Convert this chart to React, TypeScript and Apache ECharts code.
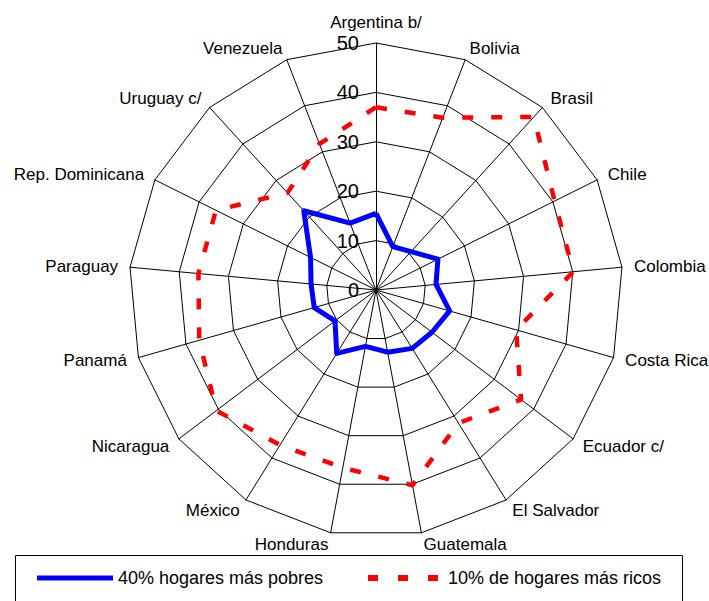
import React, { useEffect, useRef } from "react";
import * as echarts from "echarts";

const categories = [
  "Argentina b/", "Bolivia", "Brasil", "Chile", "Colombia", "Costa Rica",
  "Ecuador c/", "El Salvador", "Guatemala", "Honduras", "México", "Nicaragua",
  "Panamá", "Paraguay", "Rep. Dominicana", "Uruguay c/", "Venezuela",
];
const poorest40 = [15.5, 9.4, 10.5, 14.0, 12.2, 15.5, 14.2, 13.9, 12.8, 11.6, 15.1, 10.4, 13.0, 13.2, 14.8, 21.7, 14.5];
const richest10 = [37.0, 37.4, 47.4, 40.4, 40.1, 29.5, 36.8, 31.7, 40.2, 36.6, 36.9, 40.5, 37.2, 36.1, 36.2, 26.6, 31.7];
const seriesNames = ["40% hogares más pobres", "10% de hogares más ricos"];
const axisMax = 50;
const splitCount = 5;

const FONT = 'Arial, "Liberation Sans", sans-serif';

export default function App() {
  const ref = useRef<HTMLDivElement>(null);
  useEffect(() => {
    if (!ref.current) return;
    const chart = echarts.init(ref.current, undefined, { renderer: "svg" });
    // ECharts radar runs counter-clockwise; the reference runs clockwise.
    const order = [0, ...categories.map((_, i) => i).slice(1).reverse()];
    const indicator = order.map((i) => ({
      name: categories[i],
      min: 0,
      max: axisMax,
      axisLabel: i === 0
        ? { show: true, fontSize: 20, color: "#000", fontFamily: FONT, margin: 17 }
        : { show: false },
    }));
    const pick = (arr: number[]) => order.map((i) => arr[i]);
    chart.setOption({
      animation: false,
      backgroundColor: "#ffffff",
      radar: {
        center: [376, 290],
        radius: 247,
        startAngle: 90,
        splitNumber: splitCount,
        shape: "polygon",
        indicator,
        axisName: { color: "#000", fontSize: 17, fontFamily: FONT },
        nameGap: 12,
        axisLine: { show: true, lineStyle: { color: "#000", width: 1 } },
        splitLine: { show: true, lineStyle: { color: "#000", width: 1 } },
        splitArea: { show: false },
        axisTick: { show: false },
        axisLabel: { show: false },
      },
      legend: [
        {
          left: 37,
          top: 569,
          padding: 0,
          itemWidth: 76,
          itemHeight: 5,
          textStyle: { fontSize: 18, color: "#000", fontFamily: FONT },
          data: [
            { name: seriesNames[0], icon: "rect", itemStyle: { color: "#0000ff", borderWidth: 0 } },
          ],
        },
        {
          left: 368,
          top: 569,
          padding: 0,
          itemWidth: 70,
          itemHeight: 6,
          textStyle: { fontSize: 18, color: "#000", fontFamily: FONT, padding: [0, 0, 0, 5] },
          data: [
            {
              name: seriesNames[1],
              icon: "path://M0,0h10v6h-10zM30,0h10v6h-10zM60,0h10v6h-10z",
              itemStyle: { color: "#ff0000", borderWidth: 0 },
            },
          ],
        },
      ],
      graphic: [
        {
          type: "rect",
          shape: { x: 15.5, y: 555.5, width: 667, height: 60 },
          style: { fill: "none", stroke: "#000", lineWidth: 1 },
          silent: true,
        },
      ],
      series: [
        {
          type: "radar",
          symbol: "none",
          data: [
            {
              name: seriesNames[0],
              value: pick(poorest40),
              lineStyle: { color: "#0000ff", width: 5 },
              itemStyle: { color: "#0000ff" },
            },
            {
              name: seriesNames[1],
              value: pick(richest10),
              lineStyle: { color: "#ff0000", width: 4.5, type: [11, 18] },
              itemStyle: { color: "#ff0000" },
            },
          ],
        },
      ],
    });
    return () => chart.dispose();
  }, []);
  return (
    <div
      ref={ref}
      style={{ position: "fixed", left: 0, top: 0, width: 709, height: 601 }}
    />
  );
}
